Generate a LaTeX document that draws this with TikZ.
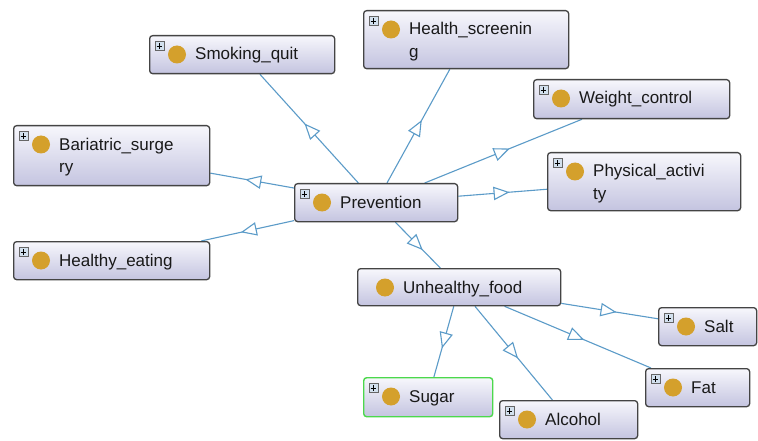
\documentclass[tikz,border=0pt]{standalone}
\usepackage{fontspec}
\setmainfont{Liberation Sans}
\usetikzlibrary{decorations.markings,backgrounds}

\definecolor{edgeblue}{HTML}{5B9BC8}
\definecolor{boxtop}{HTML}{F7F7FC}
\definecolor{boxbot}{HTML}{C4C4E0}
\definecolor{boxline}{HTML}{444444}
\definecolor{dotgold}{HTML}{D4A02C}
\definecolor{selgreen}{HTML}{4CD84C}
\definecolor{plusfill}{HTML}{D2E0EE}

\tikzset{
  conceptbox/.style={draw=boxline, line width=1.3pt, rounded corners=3pt,
    top color=boxtop, bottom color=boxbot, inner sep=0pt, anchor=north west},
  selected/.style={draw=selgreen, line width=1.4pt},
  golddot/.style={circle, fill=dotgold, inner sep=0pt, minimum size=18pt},
  plusbox/.style={rectangle, draw=gray!80!black, line width=0.6pt, fill=plusfill,
    inner sep=0pt, minimum size=9pt},
  conceptlabel/.style={font=\fontsize{17}{20}\selectfont, text=black!90, inner sep=0pt, anchor=base west},
  isa/.style={draw=edgeblue, line width=1.1pt, postaction={decorate},
    decoration={markings, mark=at position 0.5 with {
      \filldraw[fill=white, draw=edgeblue, line width=1.1pt]
        (5.5pt,0pt) -- (-8.5pt,6pt) -- (-8.5pt,-6pt) -- cycle;}}}
}

% #1 name, #2 left, #3 top, #4 width, #5 height, #6 first text line, #7 extra box style
\newcommand{\concept}[7]{%
  \node[conceptbox, minimum width=#4pt, minimum height=#5pt, #7] (#1) at (#2,#3) {};
  \node[golddot] (#1-dot) at ({#2+28},{#3+19.5}) {};
  \node[conceptlabel] (#1-text) at ({#2+46},{#3+25}) {#6};
}
% expand icon in the upper left corner of a box
\newcommand{\expander}[3]{%
  \node[plusbox] (#1-plus) at ({#2+10.5},{#3+11}) {};
  \draw[line width=0.8pt] (#1-plus.center) +(-2.8pt,0pt) -- +(2.8pt,0pt)
                          (#1-plus.center) +(0pt,-2.8pt) -- +(0pt,2.8pt);
}
% wrapped second line of a label
\newcommand{\wrapline}[4]{%
  \node[conceptlabel] (#1-text2) at ({#2+46},{#3+48}) {#4};
}

\begin{document}
\begin{tikzpicture}[x=1pt,y=-1pt]
\useasboundingbox (0,0) rectangle (758,441);

\concept{smoking}{149}{35}{185}{38}{Smoking\_quit}{}
\expander{smoking}{149}{35}
\concept{screening}{363}{10}{205}{58}{Health\_screenin}{}
\expander{screening}{363}{10}
\wrapline{screening}{363}{10}{g}
\concept{weight}{533}{79}{196}{39}{Weight\_control}{}
\expander{weight}{533}{79}
\concept{physical}{547}{152}{193}{58}{Physical\_activi}{}
\expander{physical}{547}{152}
\wrapline{physical}{547}{152}{ty}
\concept{bariatric}{13}{125}{196}{60}{Bariatric\_surge}{}
\expander{bariatric}{13}{125}
\wrapline{bariatric}{13}{125}{ry}
\concept{eating}{13}{241}{196}{38}{Healthy\_eating}{}
\expander{eating}{13}{241}
\concept{prevention}{294}{183}{163}{38}{Prevention}{}
\expander{prevention}{294}{183}
\concept{unhealthy}{357}{268}{203}{37}{Unhealthy\_food}{}
\concept{salt}{658}{307}{98}{38}{Salt}{}
\expander{salt}{658}{307}
\concept{fat}{645}{368}{104}{38}{Fat}{}
\expander{fat}{645}{368}
\concept{sugar}{363}{377}{129}{39}{Sugar}{selected}
\expander{sugar}{363}{377}
\concept{alcohol}{499}{400}{138}{38}{Alcohol}{}
\expander{alcohol}{499}{400}

\begin{scope}[on background layer]
  \fill[white] (0,0) rectangle (758,441);
  \draw[isa] (prevention) -- (smoking);
  \draw[isa] (prevention) -- (screening);
  \draw[isa] (prevention) -- (weight);
  \draw[isa] (prevention) -- (physical);
  \draw[isa] (prevention) -- (bariatric);
  \draw[isa] (prevention) -- (eating);
  \draw[isa] (prevention) -- (unhealthy);
  \draw[isa] (unhealthy) -- (sugar);
  \draw[isa] (unhealthy) -- (alcohol);
  \draw[isa] (unhealthy) -- (fat);
  \draw[isa] (unhealthy) -- (salt);
\end{scope}
\end{tikzpicture}
\end{document}
